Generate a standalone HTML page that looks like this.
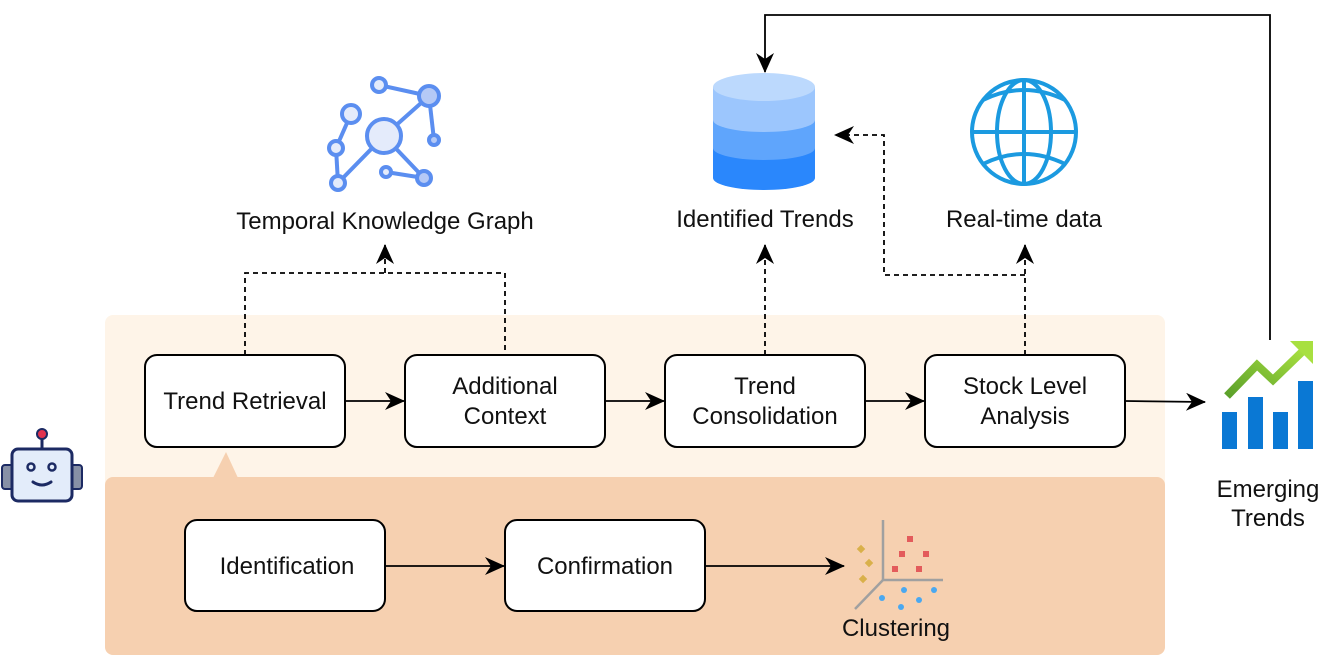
<!DOCTYPE html>
<html><head><meta charset="utf-8"><style>
html,body{margin:0;padding:0;background:#fff;}
svg{display:block;font-family:"Liberation Sans",Arial,sans-serif;}
</style></head><body>
<svg width="1330" height="660" viewBox="0 0 1330 660" xmlns="http://www.w3.org/2000/svg">
<defs>
<marker id="ah2" markerWidth="20" markerHeight="18" refX="19" refY="9" orient="auto" markerUnits="userSpaceOnUse" viewBox="0 0 20 18"><path d="M0,0 L20,9 L0,18 L6,9 Z" fill="#000"/></marker>
<linearGradient id="gr" x1="0" y1="1" x2="1" y2="0"><stop offset="0" stop-color="#5ba02a"/><stop offset="1" stop-color="#a8e040"/></linearGradient>
</defs>
<rect x="105" y="315" width="1060" height="340" rx="8" fill="#fef4e8"/>
<rect x="105" y="477" width="1060" height="178" rx="8" fill="#f6d0b0"/>
<path d="M213,478 L226,452 L238,478 Z" fill="#f6d0b0"/>
<g fill="#fff" stroke="#000" stroke-width="2">
<rect x="145" y="355" width="200" height="92" rx="12"/>
<rect x="405" y="355" width="200" height="92" rx="12"/>
<rect x="665" y="355" width="200" height="92" rx="12"/>
<rect x="925" y="355" width="200" height="92" rx="12"/>
<rect x="185" y="520" width="200" height="91" rx="12"/>
<rect x="505" y="520" width="200" height="91" rx="12"/>
</g>
<g font-size="24px" text-anchor="middle" fill="#111">
<text x="245" y="409">Trend Retrieval</text>
<text x="505" y="394">Additional</text><text x="505" y="424">Context</text>
<text x="765" y="394">Trend</text><text x="765" y="424">Consolidation</text>
<text x="1025" y="394">Stock Level</text><text x="1025" y="424">Analysis</text>
<text x="287" y="574">Identification</text>
<text x="605" y="574">Confirmation</text>
<text x="385" y="229">Temporal Knowledge Graph</text>
<text x="765" y="227">Identified Trends</text>
<text x="1024" y="227">Real-time data</text>
<text x="1268" y="497">Emerging</text><text x="1268" y="526">Trends</text>
<text x="896" y="636">Clustering</text>
</g>
<g stroke="#000" stroke-width="1.8" fill="none">
<line x1="345" y1="401" x2="404" y2="401" marker-end="url(#ah2)"/>
<line x1="605" y1="401" x2="664" y2="401" marker-end="url(#ah2)"/>
<line x1="865" y1="401" x2="924" y2="401" marker-end="url(#ah2)"/>
<line x1="1125" y1="401" x2="1205" y2="402" marker-end="url(#ah2)"/>
<line x1="385" y1="566" x2="504" y2="566" marker-end="url(#ah2)"/>
<line x1="705" y1="566" x2="844" y2="566" marker-end="url(#ah2)"/>
<polyline points="1270,340 1270,15 765,15 765,72" marker-end="url(#ah2)"/>
</g>
<g stroke="#000" stroke-width="1.8" fill="none" stroke-dasharray="5,4">
<polyline points="245,355 245,273 505,273 505,355"/>
<line x1="385" y1="273" x2="385" y2="245" marker-end="url(#ah2)"/>
<line x1="765" y1="355" x2="765" y2="245" marker-end="url(#ah2)"/>
<line x1="1025" y1="355" x2="1025" y2="245" marker-end="url(#ah2)"/>
<polyline points="1025,275 884,275 884,135 835,135" marker-end="url(#ah2)"/>
</g>
<g stroke="#5b8ef0" stroke-width="4" fill="#e4ebfb">
<line x1="384" y1="136" x2="429" y2="96"/><line x1="384" y1="136" x2="338" y2="183"/><line x1="384" y1="136" x2="424" y2="178"/>
<line x1="379" y1="85" x2="429" y2="96"/><line x1="429" y1="96" x2="434" y2="140"/><line x1="386" y1="172" x2="424" y2="178"/>
<line x1="351" y1="114" x2="336" y2="148"/><line x1="336" y1="148" x2="338" y2="183"/>
<circle cx="384" cy="136" r="17"/><circle cx="379" cy="85" r="7"/><circle cx="429" cy="96" r="10" fill="#b5c9f6"/>
<circle cx="351" cy="114" r="9"/><circle cx="336" cy="148" r="7"/><circle cx="338" cy="183" r="7"/>
<circle cx="434" cy="140" r="5" fill="#b5c9f6"/><circle cx="386" cy="172" r="5"/><circle cx="424" cy="178" r="7" fill="#b5c9f6"/>
</g>
<path d="M713,148 v30 a51,12 0 0 0 102,0 v-30 Z" fill="#2a87fc"/>
<path d="M713,120 v28 a51,12 0 0 0 102,0 v-28 Z" fill="#5fa5fc"/>
<path d="M713,87 v33 a51,12 0 0 0 102,0 v-33 Z" fill="#9cc6fd"/>
<ellipse cx="764" cy="87" rx="51" ry="14" fill="#bcd9fd"/>
<g stroke="#1b9ae0" stroke-width="4" fill="none">
<circle cx="1024" cy="132" r="52"/>
<ellipse cx="1024" cy="132" rx="27" ry="52"/>
<line x1="1024" y1="80" x2="1024" y2="184"/>
<line x1="972" y1="132" x2="1076" y2="132"/>
<path d="M983,100 Q1024,80 1065,100"/><path d="M983,164 Q1024,144 1065,164"/>
</g>
<g>
<line x1="42" y1="437" x2="42" y2="450" stroke="#1c2a63" stroke-width="3"/>
<circle cx="42" cy="434" r="5" fill="#e2334f" stroke="#1c2a63" stroke-width="2"/>
<rect x="2" y="465" width="12" height="24" rx="3" fill="#8790a6" stroke="#1c2a63" stroke-width="2"/>
<rect x="70" y="465" width="12" height="24" rx="3" fill="#8790a6" stroke="#1c2a63" stroke-width="2"/>
<rect x="12" y="449" width="60" height="52" rx="6" fill="#e3ecfa" stroke="#1c2a63" stroke-width="3"/>
<circle cx="31" cy="467" r="3.5" fill="none" stroke="#1c2a63" stroke-width="2.5"/>
<circle cx="52" cy="467" r="3.5" fill="none" stroke="#1c2a63" stroke-width="2.5"/>
<path d="M33,482 Q42,488 51,482" stroke="#1c2a63" stroke-width="3" fill="none" stroke-linecap="round"/>
</g>
<g fill="#0a78d4">
<rect x="1222" y="412" width="15" height="37"/><rect x="1248" y="397" width="15" height="52"/>
<rect x="1273" y="412" width="15" height="37"/><rect x="1298" y="381" width="15" height="68"/>
</g>
<polyline points="1227,396 1257,365 1273,380 1304,350" stroke="url(#gr)" stroke-width="8" fill="none"/>
<path d="M1290,341 L1313,341 L1313,364 Z" fill="#a8e040"/>
<g stroke="#a0a0a0" stroke-width="2.5" fill="none">
<line x1="883" y1="520" x2="883" y2="580"/><line x1="883" y1="580" x2="943" y2="580"/><line x1="883" y1="580" x2="855" y2="609"/>
</g>
<g fill="#e35b5b"><rect x="907" y="536" width="6" height="6"/><rect x="899" y="551" width="6" height="6"/><rect x="923" y="551" width="6" height="6"/><rect x="892" y="566" width="6" height="6"/><rect x="916" y="566" width="6" height="6"/></g>
<g fill="#d9b04a"><rect x="858" y="546" width="6" height="6" transform="rotate(45 861 549)"/><rect x="866" y="560" width="6" height="6" transform="rotate(45 869 563)"/><rect x="860" y="576" width="6" height="6" transform="rotate(45 863 579)"/></g>
<g fill="#4aa8f0"><circle cx="882" cy="598" r="3"/><circle cx="904" cy="590" r="3"/><circle cx="934" cy="590" r="3"/><circle cx="919" cy="600" r="3"/><circle cx="901" cy="607" r="3"/></g>
</svg>
</body></html>
